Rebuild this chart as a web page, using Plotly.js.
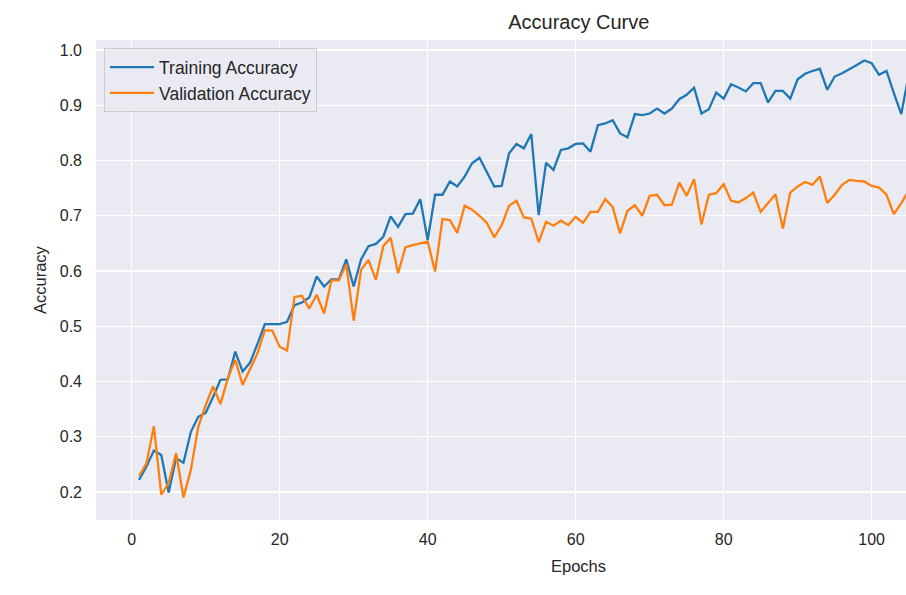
<!DOCTYPE html>
<html>
<head>
<meta charset="utf-8">
<script src="https://cdn.plot.ly/plotly-3.0.1.min.js"></script>
<style>
  html, body { margin: 0; padding: 0; background: #ffffff; overflow: hidden; }
  #chart { width: 906px; height: 595px; }
</style>
</head>
<body>
<div id="chart"></div>
<script>
const epochs = [];
for (let i = 1; i <= 105; i++) epochs.push(i);

const trainingAccuracy = [
  0.222, 0.246, 0.275, 0.267, 0.199, 0.261, 0.253, 0.309, 0.336, 0.343,
  0.372, 0.403, 0.404, 0.454, 0.418, 0.434, 0.468, 0.504, 0.504, 0.504,
  0.508, 0.538, 0.543, 0.552, 0.590, 0.572, 0.585, 0.585, 0.621, 0.572,
  0.621, 0.645, 0.649, 0.662, 0.699, 0.680, 0.703, 0.704, 0.730, 0.656,
  0.738, 0.738, 0.762, 0.753, 0.771, 0.795, 0.805, 0.780, 0.753, 0.754,
  0.813, 0.830, 0.822, 0.848, 0.701, 0.796, 0.783, 0.819, 0.822, 0.830,
  0.831, 0.816, 0.864, 0.867, 0.873, 0.849, 0.842, 0.884, 0.882, 0.885,
  0.894, 0.885, 0.894, 0.911, 0.919, 0.932, 0.885, 0.893, 0.923, 0.912,
  0.938, 0.932, 0.925, 0.940, 0.940, 0.905, 0.926, 0.926, 0.912, 0.947,
  0.957, 0.962, 0.966, 0.928, 0.952, 0.958, 0.965, 0.973, 0.981, 0.976,
  0.955, 0.962, 0.922, 0.884, 0.955
];

const validationAccuracy = [
  0.229, 0.252, 0.319, 0.195, 0.216, 0.270, 0.190, 0.240, 0.318, 0.357,
  0.391, 0.359, 0.406, 0.439, 0.394, 0.421, 0.451, 0.493, 0.492, 0.463,
  0.456, 0.553, 0.555, 0.532, 0.557, 0.523, 0.583, 0.583, 0.612, 0.510,
  0.602, 0.620, 0.584, 0.645, 0.660, 0.596, 0.643, 0.647, 0.650, 0.653,
  0.599, 0.694, 0.692, 0.669, 0.718, 0.711, 0.700, 0.687, 0.661, 0.683,
  0.718, 0.727, 0.697, 0.695, 0.652, 0.689, 0.682, 0.691, 0.683, 0.698,
  0.687, 0.707, 0.707, 0.730, 0.716, 0.668, 0.709, 0.719, 0.700, 0.736,
  0.738, 0.719, 0.720, 0.760, 0.736, 0.766, 0.684, 0.738, 0.741, 0.757,
  0.727, 0.724, 0.732, 0.742, 0.707, 0.723, 0.739, 0.677, 0.742, 0.753,
  0.761, 0.756, 0.771, 0.723, 0.738, 0.756, 0.765, 0.763, 0.762, 0.754,
  0.751, 0.738, 0.703, 0.723, 0.745
];

const xTicks = [0, 20, 40, 60, 80, 100];
const yTicks = [0.2, 0.3, 0.4, 0.5, 0.6, 0.7, 0.8, 0.9, 1.0];
const yTickText = ['0.2', '0.3', '0.4', '0.5', '0.6', '0.7', '0.8', '0.9', '1.0'];

const FONT = '"Liberation Sans", Arial, sans-serif';
const TXT = '#262626';

const traces = [
  {
    x: epochs, y: trainingAccuracy, type: 'scatter', mode: 'lines',
    name: 'Training Accuracy',
    line: { color: '#1f77b4', width: 2.3 }
  },
  {
    x: epochs, y: validationAccuracy, type: 'scatter', mode: 'lines',
    name: 'Validation Accuracy',
    line: { color: '#ff7f0e', width: 2.3 }
  }
];

const layout = {
  width: 906, height: 595,
  margin: { l: 96, r: 0, t: 40, b: 75, pad: 0 },
  paper_bgcolor: '#ffffff',
  plot_bgcolor: '#eaeaf2',
  font: { family: FONT, color: TXT, size: 16 },
  showlegend: true,
  title: {
    text: 'Accuracy Curve',
    font: { family: FONT, size: 20, color: TXT },
    xref: 'paper', x: 0.596, xanchor: 'center',
    yref: 'container', y: 1 - 22 / 595, yanchor: 'middle'
  },
  xaxis: {
    range: [-4.82, 104.64],
    tickmode: 'array', tickvals: xTicks,
    ticks: '', ticklabelstandoff: 8,
    showgrid: true, gridcolor: '#ffffff', gridwidth: 1.3,
    zeroline: false, showline: false,
    tickfont: { family: FONT, size: 16, color: TXT }
  },
  yaxis: {
    range: [0.1493, 1.0181],
    tickmode: 'array', tickvals: yTicks, ticktext: yTickText,
    ticks: '', ticklabelstandoff: 13,
    showgrid: true, gridcolor: '#ffffff', gridwidth: 1.3,
    zeroline: false, showline: false,
    tickfont: { family: FONT, size: 16, color: TXT }
  },
  legend: {
    x: 0.0099, y: 0.983, xanchor: 'left', yanchor: 'top',
    bgcolor: 'rgba(234,234,242,0.85)',
    bordercolor: '#cccccc', borderwidth: 1,
    font: { family: FONT, size: 17.5, color: TXT },
    itemwidth: 44,
    tracegroupgap: 0
  },
  annotations: [
    {
      text: 'Epochs', xref: 'paper', yref: 'paper',
      x: (578 - 96) / 810, y: (520 - 566) / 480,
      xanchor: 'center', yanchor: 'middle', showarrow: false,
      font: { family: FONT, size: 16.5, color: TXT }
    },
    {
      text: 'Accuracy', xref: 'paper', yref: 'paper',
      x: (40 - 96) / 810, y: 0.5, textangle: -90,
      xanchor: 'center', yanchor: 'middle', showarrow: false,
      font: { family: FONT, size: 16.5, color: TXT }
    }
  ]
};

Plotly.newPlot('chart', traces, layout, { displayModeBar: false, staticPlot: true });
</script>
</body>
</html>
